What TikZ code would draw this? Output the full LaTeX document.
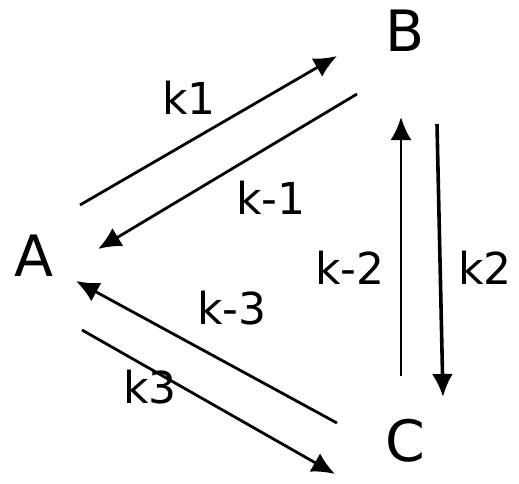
\documentclass[tikz,border=0pt]{standalone}
\usepackage{fontspec}
\setmainfont{DejaVu Sans}
\usetikzlibrary{arrows.meta}
\tikzset{
  species/.style={inner sep=0pt,font=\fontsize{57}{60}\selectfont},
  rate/.style={inner sep=0pt,font=\fontsize{44}{46}\selectfont},
  react/.style={line width=2.8pt,-{Latex[length=23pt,width=21pt]}}
}
\begin{document}
\begin{tikzpicture}[x=1pt,y=-1pt]
\useasboundingbox (0,0) rectangle (519,484);
\node[species] (A) at (34,256) {A};
\node[species] (B) at (405,31) {B};
\node[species] (C) at (405,441) {C};
\coordinate (ab0) at (80,205);
\coordinate (ab1) at (337,56);
\coordinate (ba0) at (357,94);
\coordinate (ba1) at (98,249);
\coordinate (cb0) at (401,376);
\coordinate (cb1) at (401,117);
\coordinate (bc0) at (437,124);
\coordinate (bc1) at (443,397);
\coordinate (ca0) at (337,423);
\coordinate (ca1) at (76,281);
\coordinate (ac0) at (82,330);
\coordinate (ac1) at (335,474);
\draw[react](ab0)--(ab1);
\draw[react](ba0)--(ba1);
\draw[react](cb0)--(cb1);
\draw[react,line width=3.6pt](bc0)--(bc1);
\draw[react](ca0)--(ca1);
\draw[react](ac0)--(ac1);
\node[rate] (k1) at (189,98) {k1};
\node[rate] (km1) at (271,198) {k-1};
\node[rate] (km2) at (350,268) {k-2};
\node[rate] (k2) at (485,268) {k2};
\node[rate] (km3) at (232,308) {k-3};
\node[rate] (k3) at (150,387) {k3};
\end{tikzpicture}
\end{document}
